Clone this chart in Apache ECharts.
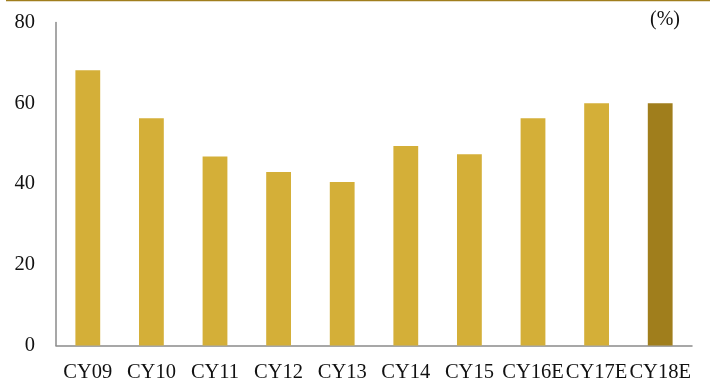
<!DOCTYPE html>
<html>
<head>
<meta charset="utf-8">
<script src="https://cdn.jsdelivr.net/npm/echarts@6/dist/echarts.min.js"></script>
<style>html,body{margin:0;padding:0;background:#fff;}#c{width:712px;height:389px;}</style>
</head>
<body>
<div id="c"></div>
<script>
const categories = ['CY09','CY10','CY11','CY12','CY13','CY14','CY15','CY16E','CY17E','CY18E'];
const values = [68.2, 56.3, 46.8, 43.0, 40.5, 49.4, 47.4, 56.3, 60.0, 60.0];
const yTicks = { min: 0, max: 80, interval: 20 };
const unitLabel = '(%)';

const gold = '#D4AF38';
const darkGold = '#A07E1C';
const font = '"Liberation Serif", "DejaVu Serif", serif';

const chart = echarts.init(document.getElementById('c'));
chart.setOption({
  animation: false,
  backgroundColor: '#fff',
  grid: { left: 56, right: 20, top: 22.6, bottom: 43.6, containLabel: false },
  graphic: [
    { type: 'line', shape: { x1: 6, y1: 0.5, x2: 710, y2: 0.5 }, style: { stroke: darkGold, lineWidth: 1.5 } },
    { type: 'text', right: 32, top: 10, style: { text: unitLabel, font: '20px ' + font, fill: '#111' } }
  ],
  xAxis: {
    type: 'category',
    data: categories,
    axisLine: { show: true, lineStyle: { color: '#8a8a8a', width: 1.5 } },
    axisTick: { show: false },
    axisLabel: { color: '#111', fontFamily: font, fontSize: 20.5, margin: 17, interval: 0 }
  },
  yAxis: {
    type: 'value',
    min: yTicks.min, max: yTicks.max, interval: yTicks.interval,
    axisLine: { show: true, lineStyle: { color: '#8a8a8a', width: 1.5 } },
    axisTick: { show: false },
    splitLine: { show: false },
    axisLabel: { color: '#111', fontFamily: font, fontSize: 20.5, margin: 21 }
  },
  series: [{
    type: 'bar',
    data: values.map((v, i) => ({ value: v, itemStyle: { color: i === values.length - 1 ? darkGold : gold } })),
    barWidth: '39%'
  }]
});
</script>
</body>
</html>
